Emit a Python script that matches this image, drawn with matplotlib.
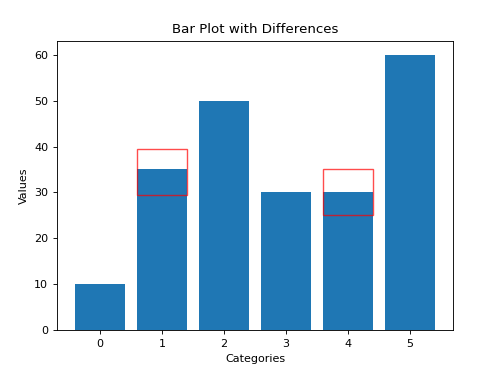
import matplotlib
matplotlib.use("Agg")
import matplotlib.pyplot as plt
from matplotlib.patches import Rectangle

categories = [0, 1, 2, 3, 4, 5]
values = [10, 35, 50, 30, 30, 60]
diff_index = [1, 4]
diff_low = [29.5, 25]
diff_high = [39.5, 35]

fig = plt.figure(figsize=(5, 3.83), dpi=100)
ax = fig.add_axes([57/500, 1 - 330/383, (453-57)/500, (330-41)/383])
s = 0.8
ax.bar(categories, values, width=0.8, color="#1f77b4")
for i, lo, hi in zip(diff_index, diff_low, diff_high):
    ax.add_patch(Rectangle((categories[i] - 0.4, lo), 0.8, hi - lo,
                           fill=False, edgecolor="red", alpha=0.7, linewidth=1.0))
ax.set_title("Bar Plot with Differences", fontsize=12*s)
ax.set_xlabel("Categories", fontsize=10*s)
ax.set_ylabel("Values", fontsize=10*s)
ax.tick_params(labelsize=10*s, width=0.8*s, length=3.5*s)
for sp in ax.spines.values():
    sp.set_linewidth(0.8*s)
fig.savefig("out.png", dpi=100)
